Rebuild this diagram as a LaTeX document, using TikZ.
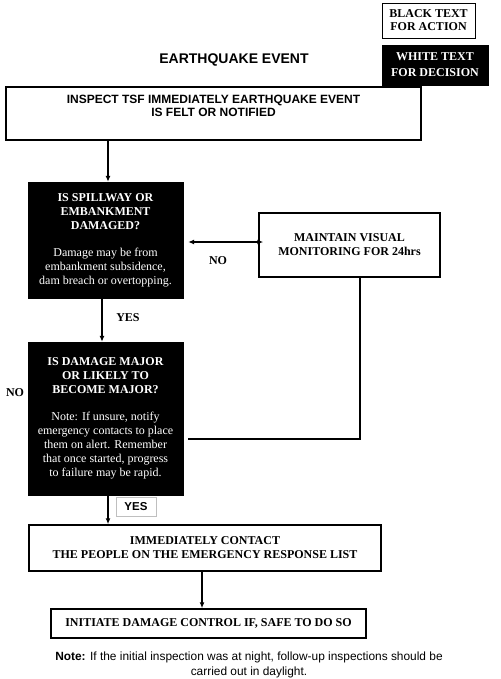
\documentclass[tikz,border=0pt]{standalone}
\usepackage{fontspec}
\setmainfont{Liberation Serif}
\setsansfont{Liberation Sans}
\usepackage{tikz}
\usetikzlibrary{arrows.meta}
\usetikzlibrary{positioning}

\tikzset{
  actbox/.style={rectangle,draw=black,line width=1.5pt,fill=white,align=center,
    font=\bfseries\fontsize{12}{14}\selectfont},
  decbox/.style={rectangle,draw=black,fill=black,text=white,align=center,
    font=\fontsize{12}{14}\selectfont},
  flow/.style={line width=1.5pt,-{Latex[length=6pt,width=5pt]}},
  plain/.style={line width=1.5pt},
  answer/.style={font=\bfseries\fontsize{12}{14}\selectfont}
}

\begin{document}
\begin{tikzpicture}[x=1pt,y=-1pt]
\useasboundingbox (0,0) rectangle (500,679);

% legend
\node at (428.5,20.5) [actbox,line width=0.6pt,minimum width=93pt,minimum height=35pt,
  font=\bfseries\fontsize{12}{13}\selectfont] (legact) {BLACK TEXT\\FOR ACTION};
\node at (435,65) [decbox,minimum width=106pt,minimum height=40pt,
  font=\bfseries\fontsize{12}{16}\selectfont] (legdec) {WHITE TEXT\\FOR DECISION};

\node at (234,60) [font=\sffamily\bfseries\fontsize{14}{16}\selectfont] (title) {EARTHQUAKE EVENT};

% boxes
\node at (213.5,113.5) [actbox,minimum width=415pt,minimum height=53pt] (inspect) {};
\node [below=5pt of inspect.north,align=center,
  font=\sffamily\bfseries\fontsize{12}{13.5}\selectfont] (inspecttext)
  {INSPECT TSF IMMEDIATELY EARTHQUAKE EVENT\\IS FELT OR NOTIFIED};

\node at (105.5,240) [decbox,minimum width=155pt,minimum height=116pt] (spill)
  {\textbf{IS SPILLWAY OR}\\\textbf{EMBANKMENT}\\\textbf{DAMAGED?}\\[13pt]
   Damage may be from\\embankment subsidence,\\dam breach or overtopping.};
\node at (349.5,245) [actbox,minimum width=181pt,minimum height=64pt] (maintain)
  {MAINTAIN VISUAL\\MONITORING FOR 24hrs};

\node at (105.5,418.5) [decbox,minimum width=155pt,minimum height=153pt] (major)
  {\textbf{IS DAMAGE MAJOR}\\\textbf{OR LIKELY TO}\\\textbf{BECOME MAJOR?}\\[13pt]
   Note: If unsure, notify\\emergency contacts to place\\them on alert. Remember\\
   that once started, progress\\to failure may be rapid.};

\node at (205,548) [actbox,minimum width=352pt,minimum height=46pt] (contact)
  {IMMEDIATELY CONTACT\\THE PEOPLE ON THE EMERGENCY RESPONSE LIST};
\node at (208.5,623.5) [actbox,minimum width=315pt,minimum height=29pt] (initiate)
  {INITIATE DAMAGE CONTROL IF, SAFE TO DO SO};

% answers
\node at (128,318) [answer] (yesone) {YES};
\node at (218,261) [answer] (noone) {NO};
\node at (15,393) [answer] (notwo) {NO};
\node at (136,506.5) [rectangle,draw=black!25,line width=0.6pt,minimum width=40pt,minimum height=19pt,
  font=\sffamily\bfseries\fontsize{11.5}{13}\selectfont] (yestwo) {YES};

\node at (249,664.5) [align=center,font=\sffamily\fontsize{11.9}{15}\selectfont] (note)
  {\textbf{Note:} If the initial inspection was at night, follow-up inspections should be\\
   carried out in daylight.};

% connectors
\draw [flow] ([xshift=-105.5pt]inspect.south) -- ([xshift=2.5pt]spill.north);
\draw [flow] ([xshift=-3.5pt]spill.south) -- ([xshift=-3.5pt]major.north);
\draw [flow,{Latex[length=6pt,width=5pt]}-{Latex[length=6pt,width=5pt]}]
  ([xshift=5pt,yshift=-2pt]spill.east) -- ([xshift=5pt,yshift=-2pt]spill.east -| maintain.west);
\draw [plain] ([xshift=10.5pt]maintain.south) |- ([xshift=5pt,yshift=-20.5pt]major.east);
\draw [flow] ([xshift=2.5pt]major.south) -- ([xshift=2.5pt]major.south |- contact.north);
\draw [flow] ([xshift=-3pt]contact.south) -- ([xshift=-3pt]contact.south |- initiate.north);
\end{tikzpicture}
\end{document}
